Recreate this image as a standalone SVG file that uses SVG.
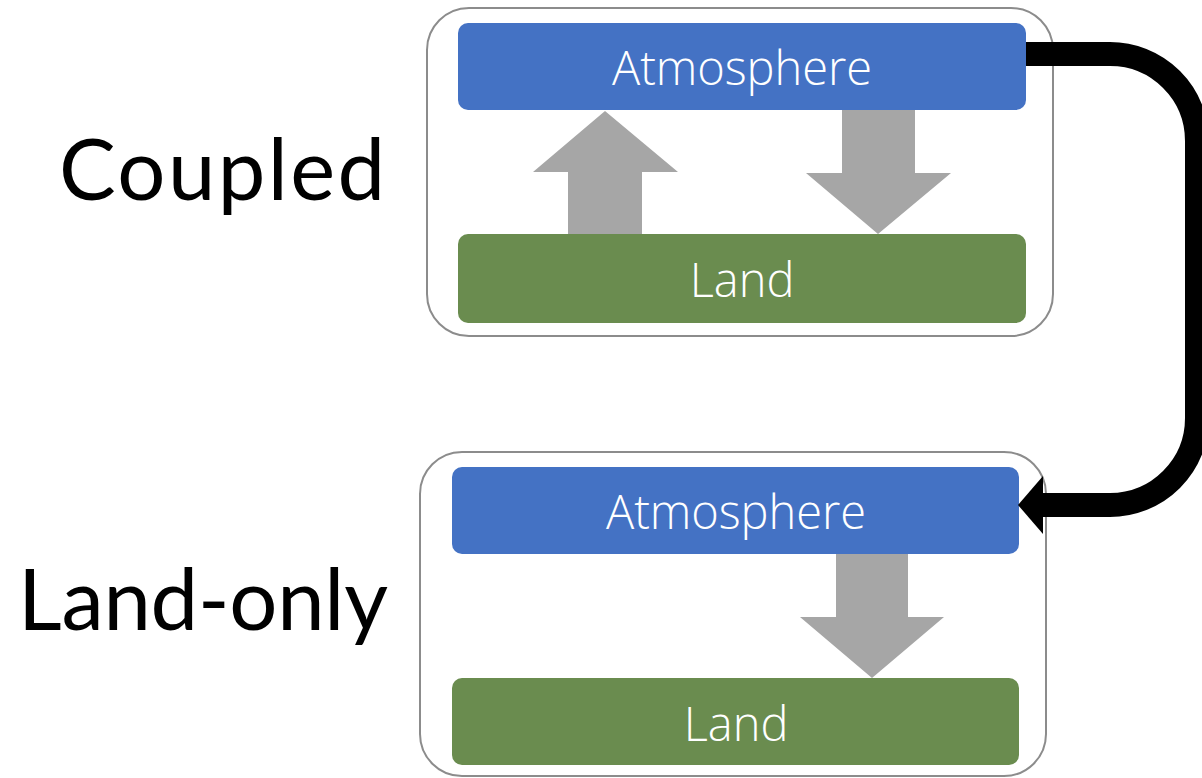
<svg xmlns="http://www.w3.org/2000/svg" width="1202" height="778" viewBox="0 0 1202 778">
  <style>
    .frame { fill: #ffffff; stroke: #8c8c8c; stroke-width: 2; }
    .atm { fill: #4472c4; }
    .land { fill: #6a8c4f; }
    .flow { fill: #a6a6a6; }
    .box-label { font-family: "Open Sans", "Liberation Sans", sans-serif; font-weight: 300; font-size: 47px; fill: #ffffff; text-anchor: middle; }
    .side-label { font-family: "Lato", "Liberation Sans", sans-serif; font-weight: 400; font-size: 85px; fill: #000000; text-anchor: end; }
    .link { fill: none; stroke: #000000; stroke-width: 24; }
  </style>

  <!-- side labels -->
  <text class="side-label" x="385" y="200" textLength="326">Coupled</text>
  <text class="side-label" x="388" y="630" textLength="370">Land-only</text>

  <!-- coupled configuration -->
  <g id="coupled">
    <rect class="frame" x="427" y="8" width="626" height="328" rx="42"/>
    <g id="coupled-atmosphere">
      <rect class="atm" x="458" y="23" width="568" height="87" rx="10"/>
      <text class="box-label" x="742" y="85" textLength="260">Atmosphere</text>
    </g>
    <g id="coupled-land">
      <rect class="land" x="458" y="234" width="568" height="89" rx="10"/>
      <text class="box-label" x="742" y="297">Land</text>
    </g>
    <!-- land to atmosphere -->
    <polygon class="flow" points="568,234 568,172 533,172 605,111 678,172 642,172 642,234"/>
    <!-- atmosphere to land -->
    <polygon class="flow" points="842,110 915,110 915,173 951,173 878,234 806,173 842,173"/>
  </g>

  <!-- land-only configuration -->
  <g id="land-only">
    <rect class="frame" x="420" y="452" width="626" height="324" rx="42"/>
    <g id="forced-atmosphere">
      <rect class="atm" x="452" y="467" width="567" height="87" rx="10"/>
      <text class="box-label" x="736" y="529" textLength="260">Atmosphere</text>
    </g>
    <g id="forced-land">
      <rect class="land" x="452" y="678" width="567" height="87" rx="10"/>
      <text class="box-label" x="736" y="741">Land</text>
    </g>
    <!-- atmosphere to land -->
    <polygon class="flow" points="836,554 908,554 908,617 944,617 872,678 800,617 836,617"/>
  </g>

  <!-- connector: coupled atmosphere feeds the land-only run -->
  <g id="connectors">
    <path class="link" d="M1026,54 H1110 A87,87 0 0 1 1197,141 V418 A87,87 0 0 1 1110,505 H1040"/>
    <polygon fill="#000000" points="1043,476 1018,505 1043,534"/>
  </g>
</svg>
